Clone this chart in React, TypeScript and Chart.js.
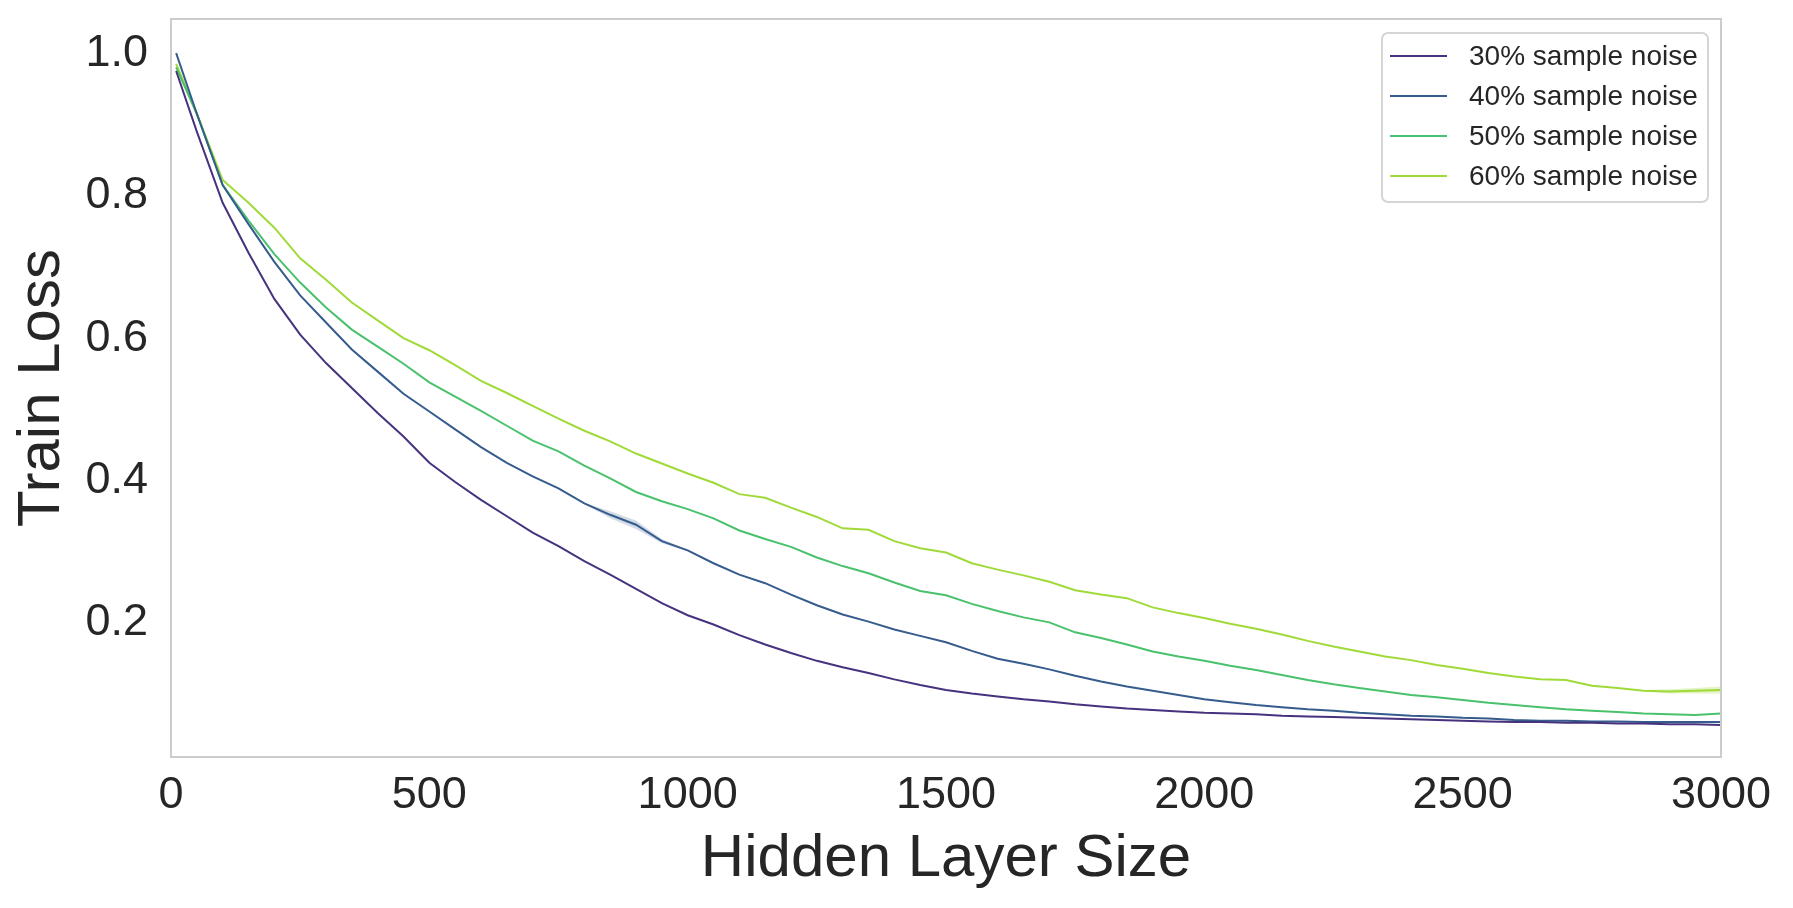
import React, { useEffect, useRef } from "react";
import { Chart, registerables } from "chart.js";

Chart.register(...registerables);

const hiddenSizes = [
  10, 50, 100, 150, 200, 250, 300, 350, 400, 450, 500, 550, 600, 650, 700, 750,
  800, 850, 900, 950, 1000, 1050, 1100, 1150, 1200, 1250, 1300, 1350, 1400, 1450,
  1500, 1550, 1600, 1650, 1700, 1750, 1800, 1850, 1900, 1950, 2000, 2050, 2100,
  2150, 2200, 2250, 2300, 2350, 2400, 2450, 2500, 2550, 2600, 2650, 2700, 2750,
  2800, 2850, 2900, 2950, 3000,
];

const noise30 = [
  0.975, 0.89, 0.79, 0.72, 0.655, 0.605, 0.565, 0.53, 0.495, 0.462, 0.425, 0.398,
  0.373, 0.35, 0.327, 0.308, 0.287, 0.268, 0.248, 0.228, 0.211, 0.198, 0.183, 0.17,
  0.158, 0.147, 0.138, 0.13, 0.121, 0.113, 0.106, 0.101, 0.097, 0.093, 0.09, 0.086,
  0.083, 0.08, 0.078, 0.076, 0.074, 0.073, 0.072, 0.07, 0.069, 0.068, 0.067, 0.066,
  0.065, 0.064, 0.063, 0.062, 0.061, 0.061, 0.06, 0.06, 0.059, 0.059, 0.058, 0.058,
  0.057,
];

const noise40 = [
  1.0, 0.915, 0.815, 0.76, 0.707, 0.66, 0.622, 0.584, 0.553, 0.522, 0.497, 0.472,
  0.447, 0.425, 0.406, 0.389, 0.368, 0.352, 0.338, 0.315, 0.302, 0.284, 0.268, 0.256,
  0.24, 0.225, 0.212, 0.202, 0.191, 0.182, 0.173, 0.161, 0.15, 0.143, 0.135, 0.126,
  0.118, 0.111, 0.105, 0.099, 0.093, 0.089, 0.085, 0.082, 0.079, 0.077, 0.074, 0.072,
  0.07, 0.069, 0.067, 0.066, 0.064, 0.063, 0.063, 0.062, 0.062, 0.061, 0.061, 0.061,
  0.061,
];

const noise50 = [
  0.98, 0.915, 0.815, 0.765, 0.718, 0.678, 0.643, 0.612, 0.588, 0.564, 0.538, 0.518,
  0.498, 0.477, 0.456, 0.441, 0.421, 0.403, 0.384, 0.371, 0.36, 0.347, 0.33, 0.318,
  0.307, 0.292, 0.28, 0.27, 0.257, 0.245, 0.239, 0.227, 0.217, 0.208, 0.201, 0.187,
  0.179, 0.17, 0.16, 0.153, 0.147, 0.14, 0.134, 0.127, 0.12, 0.114, 0.109, 0.104,
  0.099, 0.096, 0.092, 0.088, 0.085, 0.082, 0.079, 0.077, 0.075, 0.073, 0.072, 0.071,
  0.073,
];

const noise60 = [
  0.985, 0.915, 0.822, 0.79, 0.755, 0.712, 0.682, 0.65, 0.625, 0.6, 0.583, 0.562,
  0.54, 0.523, 0.505, 0.487, 0.47, 0.455, 0.438, 0.424, 0.41, 0.397, 0.381, 0.376,
  0.362, 0.349, 0.333, 0.331, 0.315, 0.305, 0.299, 0.284, 0.275, 0.267, 0.258, 0.246,
  0.24, 0.235, 0.222, 0.214, 0.207, 0.199, 0.192, 0.184, 0.175, 0.167, 0.16, 0.153,
  0.148, 0.141, 0.136, 0.13, 0.125, 0.121, 0.12, 0.112, 0.109, 0.105, 0.104, 0.105,
  0.106,
];

// small visible confidence bands
const band40X = [800, 850, 900, 950, 1000];
const band40Upper = [0.369, 0.357, 0.344, 0.318, 0.303];
const band40Lower = [0.367, 0.347, 0.332, 0.312, 0.301];
const band60X = [2850, 2900, 2950, 3000];
const band60Upper = [0.106, 0.107, 0.109, 0.111];
const band60Lower = [0.104, 0.101, 0.101, 0.101];

const seriesLabels = [
  "30% sample noise",
  "40% sample noise",
  "50% sample noise",
  "60% sample noise",
];
const seriesColors = ["#46327e", "#365c8d", "#4ac16d", "#a0da39"];
const xTicks = [0, 500, 1000, 1500, 2000, 2500, 3000];
const yTicks = [0.2, 0.4, 0.6, 0.8, 1.0];

const FONT = "'Liberation Sans', Arial, sans-serif";
const TEXT = "#262626";

function pts(xs: number[], ys: number[]) {
  return xs.map((x, i) => ({ x, y: ys[i] }));
}

const spinePlugin = {
  id: "spines",
  afterDatasetsDraw(chart: any) {
    const { ctx, chartArea: ca } = chart;
    ctx.save();
    ctx.strokeStyle = "#cccccc";
    ctx.lineWidth = 2;
    ctx.strokeRect(ca.left, ca.top, ca.right - ca.left, ca.bottom - ca.top);
    ctx.restore();
  },
};

const legendPlugin = {
  id: "boxLegend",
  afterDraw(chart: any) {
    const { ctx, chartArea: ca } = chart;
    const boxW = 326;
    const boxH = 169;
    const x0 = ca.right - 13 - boxW;
    const y0 = ca.top + 14;
    ctx.save();
    ctx.beginPath();
    ctx.roundRect(x0, y0, boxW, boxH, 6);
    ctx.fillStyle = "rgba(255,255,255,0.85)";
    ctx.fill();
    ctx.strokeStyle = "#d5d5d5";
    ctx.lineWidth = 2;
    ctx.stroke();
    ctx.font = `28px ${FONT}`;
    ctx.textBaseline = "middle";
    ctx.textAlign = "left";
    for (let i = 0; i < 4; i++) {
      const ds = chart.data.datasets[i];
      const cy = y0 + 23 + i * 40;
      ctx.beginPath();
      ctx.strokeStyle = ds.borderColor;
      ctx.lineWidth = 2.2;
      ctx.moveTo(x0 + 8, cy);
      ctx.lineTo(x0 + 65, cy);
      ctx.stroke();
      ctx.fillStyle = TEXT;
      ctx.fillText(ds.label, x0 + 87, cy + 1);
    }
    ctx.restore();
  },
};

export default function App() {
  const canvasRef = useRef<HTMLCanvasElement | null>(null);

  useEffect(() => {
    document.body.style.margin = "0";
    document.body.style.overflow = "hidden";
    const canvas = canvasRef.current;
    if (!canvas) return;
    const seriesValues = [noise30, noise40, noise50, noise60];
    const lineSets = seriesValues.map((vals, i) => ({
      label: seriesLabels[i],
      data: pts(hiddenSizes, vals),
      borderColor: seriesColors[i],
      backgroundColor: seriesColors[i],
      borderWidth: 2,
      pointRadius: 0,
      tension: 0,
      fill: false,
    }));
    const bandSets = [
      {
        label: "band40u",
        data: pts(band40X, band40Upper),
        borderWidth: 0,
        borderColor: "rgba(0,0,0,0)",
        pointRadius: 0,
        fill: false,
      },
      {
        label: "band40l",
        data: pts(band40X, band40Lower),
        borderWidth: 0,
        borderColor: "rgba(0,0,0,0)",
        backgroundColor: "rgba(54,92,141,0.22)",
        pointRadius: 0,
        fill: "-1",
      },
      {
        label: "band60u",
        data: pts(band60X, band60Upper),
        borderWidth: 0,
        borderColor: "rgba(0,0,0,0)",
        pointRadius: 0,
        fill: false,
      },
      {
        label: "band60l",
        data: pts(band60X, band60Lower),
        borderWidth: 0,
        borderColor: "rgba(0,0,0,0)",
        backgroundColor: "rgba(160,218,57,0.3)",
        pointRadius: 0,
        fill: "-1",
      },
    ];

    const chart = new Chart(canvas, {
      type: "line",
      data: { datasets: [...lineSets, ...bandSets] as any },
      options: {
        animation: false,
        responsive: false,
        devicePixelRatio: 1,
        layout: { padding: { left: 0, right: 72, top: 19, bottom: 0 } },
        plugins: {
          legend: { display: false },
          tooltip: { enabled: false },
        },
        scales: {
          x: {
            type: "linear",
            min: 0,
            max: 3000,
            grid: { display: false, drawTicks: false },
            border: { display: false },
            afterFit: (scale: any) => {
              scale.height = 151;
              scale.paddingLeft = 0;
              scale.paddingRight = 0;
            },
            afterBuildTicks: (scale: any) => {
              scale.ticks = xTicks.map((v) => ({ value: v }));
            },
            ticks: {
              autoSkip: false,
              maxRotation: 0,
              padding: 12,
              color: TEXT,
              font: { family: FONT, size: 45 },
              callback: (v: any) => String(v),
            },
            title: {
              display: true,
              text: "Hidden Layer Size",
              color: TEXT,
              font: { family: FONT, size: 60 },
              padding: { top: 0, bottom: 13 },
            },
          },
          y: {
            type: "linear",
            min: 0.012,
            max: 1.048,
            grid: { display: false, drawTicks: false },
            border: { display: false },
            afterFit: (scale: any) => {
              scale.width = 171;
              scale.paddingTop = 0;
              scale.paddingBottom = 0;
            },
            afterBuildTicks: (scale: any) => {
              scale.ticks = yTicks.map((v) => ({ value: v }));
            },
            ticks: {
              autoSkip: false,
              padding: 23,
              color: TEXT,
              font: { family: FONT, size: 45 },
              callback: (v: any) => Number(v).toFixed(1),
            },
            title: {
              display: true,
              text: "Train Loss",
              color: TEXT,
              font: { family: FONT, size: 60 },
              padding: { top: 6, bottom: 0 },
            },
          },
        },
      },
      plugins: [spinePlugin, legendPlugin],
    });

    return () => {
      chart.destroy();
    };
  }, []);

  return (
    <div style={{ width: 1793, height: 908, background: "#ffffff" }}>
      <canvas ref={canvasRef} width={1793} height={908} style={{ display: "block" }} />
    </div>
  );
}
